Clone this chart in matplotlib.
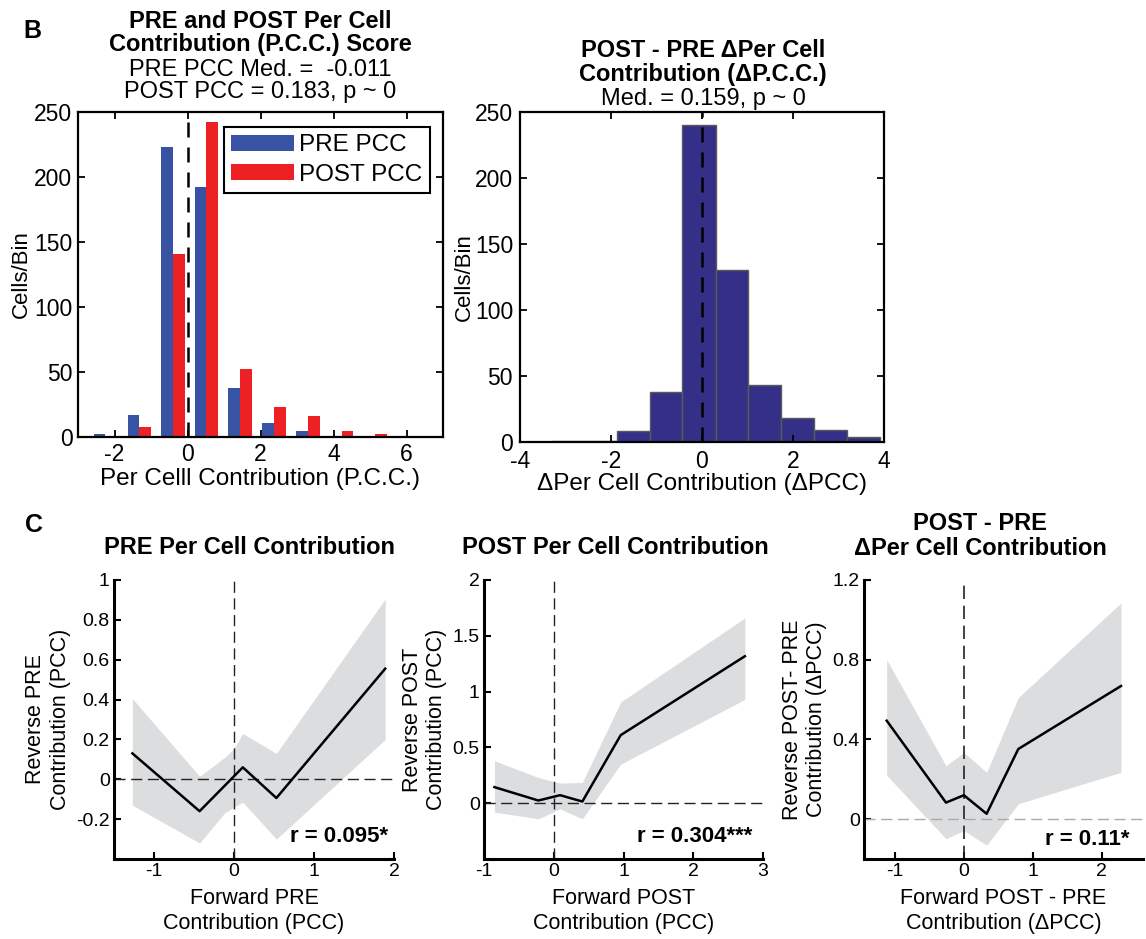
import numpy as np
import matplotlib
matplotlib.use('Agg')
import matplotlib.pyplot as plt

plt.rcParams['font.family'] = ['Liberation Sans', 'DejaVu Sans']
plt.rcParams['axes.unicode_minus'] = False

# ---------------- data ----------------
# Panel B (left): PRE / POST per-cell contribution histogram (grouped)
pcc_bin_centers = [-2.25, -1.32, -0.40, 0.52, 1.44, 2.37, 3.30, 4.22, 5.15, 6.07]
pre_counts = [2, 17, 223, 192, 38, 11, 5, 1, 0, 1]
post_counts = [0, 8, 141, 242, 52, 23, 16, 5, 2, 0]

# Panel B (right): delta PCC histogram
dpcc_edges = [-3.32, -2.60, -1.87, -1.15, -0.43, 0.30, 1.02, 1.74, 2.47, 3.19, 3.92]
dpcc_counts = [1, 1, 8, 38, 240, 130, 43, 18, 9, 4]

# Panel C: forward vs reverse contribution (mean line + shaded error band)
pre_line_x = [-1.27, -0.43, 0.11, 0.53, 1.89]
pre_line_y = [0.13, -0.16, 0.06, -0.094, 0.555]
pre_band_x = [-1.27, -0.43, -0.12, 0.0, 0.11, 0.53, 1.89]
pre_band_hi = [0.405, 0.015, 0.109, 0.154, 0.23, 0.13, 0.905]
pre_band_lo = [-0.13, -0.32, -0.17, -0.14, -0.115, -0.30, 0.20]

post_x = [-0.85, -0.22, 0.09, 0.41, 0.96, 2.74]
post_y = [0.144, 0.024, 0.072, 0.015, 0.61, 1.317]
post_hi = [0.38, 0.23, 0.18, 0.186, 0.907, 1.66]
post_lo = [-0.08, -0.14, -0.05, -0.14, 0.35, 0.93]

delta_x = [-1.12, -0.26, 0.0, 0.33, 0.79, 2.28]
delta_y = [0.494, 0.083, 0.12, 0.027, 0.352, 0.668]
delta_hi = [0.80, 0.268, 0.335, 0.235, 0.61, 1.085]
delta_lo = [0.22, -0.098, -0.057, -0.13, 0.077, 0.235]

# ---------------- layout ----------------
W, H = 1146, 939
fig = plt.figure(figsize=(W / 100, H / 100), dpi=100)


def axrect(l, t, r, b):
    return [l / W, 1 - b / H, (r - l) / W, (b - t) / H]


def fx(x):
    return x / W


def fy(y):
    return 1 - y / H


BLUE = '#3953A4'
RED = '#ED2024'
NAVY = '#343088'
BAND = '#DCDDDF'

ax1 = fig.add_axes(axrect(78, 112, 443, 437))
ax2 = fig.add_axes(axrect(520, 112, 884, 442))
ax3 = fig.add_axes(axrect(114, 580, 394, 859))
ax4 = fig.add_axes(axrect(484, 580, 763, 859))
ax5 = fig.add_axes(axrect(864, 580, 1143, 859))

# ---------- top axes style ----------
for ax in (ax1, ax2):
    for s in ax.spines.values():
        s.set_linewidth(1.6)
    ax.tick_params(direction='in', length=5, width=1.3, top=True, right=True,
                   labelsize=16.5, pad=4)
ax2.tick_params(axis='x', pad=6)
ax2.tick_params(axis='y', pad=5)

# ---------- Panel B left ----------
c = np.array(pcc_bin_centers)
bw = 0.32
ax1.bar(c - bw / 2, pre_counts, width=bw, color=BLUE, label='PRE PCC')
ax1.bar(c + bw / 2, post_counts, width=bw, color=RED, label='POST PCC')
ax1.plot([0, 0], [0, 250], color='k', lw=1.8, dashes=(6, 4))
ax1.set_xlim(-3, 7)
ax1.set_ylim(0, 250)
ax1.set_xticks([-2, 0, 2, 4, 6])
ax1.set_yticks([0, 50, 100, 150, 200, 250])
ax1.set_xlabel('Per Celll Contribution (P.C.C.)', fontsize=17.5, labelpad=2)
ax1.set_ylabel('Cells/Bin', fontsize=16, labelpad=2)
leg = ax1.legend(loc='upper right', bbox_to_anchor=(0.964, 0.954), fontsize=17.5,
                 frameon=True, fancybox=False, edgecolor='k', framealpha=1,
                 handlelength=2.6, handleheight=0.65, borderpad=0.3,
                 labelspacing=0.3, handletextpad=0.2, borderaxespad=0)
leg.get_frame().set_linewidth(1.5)

fig.text(fx(260), fy(28), 'PRE and POST Per Cell', ha='center', va='baseline',
         fontsize=17, fontweight='bold')
fig.text(fx(260), fy(51), 'Contribution (P.C.C.) Score', ha='center', va='baseline',
         fontsize=17, fontweight='bold')
fig.text(fx(260), fy(76), 'PRE PCC Med. =  -0.011', ha='center', va='baseline',
         fontsize=17)
fig.text(fx(260), fy(98), 'POST PCC = 0.183, p ~ 0', ha='center', va='baseline',
         fontsize=17)

# ---------- Panel B right ----------
e = np.array(dpcc_edges)
ax2.bar(e[:-1], dpcc_counts, width=np.diff(e), align='edge', color=NAVY,
        edgecolor='#5a5a5a', linewidth=1.0)
ax2.plot([0, 0], [0, 250], color='k', lw=1.8, dashes=(6, 4))
ax2.set_xlim(-4, 4)
ax2.set_ylim(0, 250)
ax2.set_xticks([-4, -2, 0, 2, 4])
ax2.set_yticks([0, 50, 100, 150, 200, 250])
ax2.set_xlabel('\u0394Per Cell Contribution (\u0394PCC)', fontsize=17.5, labelpad=0)
ax2.set_ylabel('Cells/Bin', fontsize=16, labelpad=0)

fig.text(fx(703), fy(57), 'POST - PRE \u0394Per Cell', ha='center', va='baseline',
         fontsize=17, fontweight='bold')
fig.text(fx(703), fy(81), 'Contribution (\u0394P.C.C.)', ha='center', va='baseline',
         fontsize=17, fontweight='bold')
fig.text(fx(703), fy(105), 'Med. = 0.159, p ~ 0', ha='center', va='baseline',
         fontsize=17)

# ---------- bottom axes ----------
def style_bottom(ax):
    ax.spines['top'].set_visible(False)
    ax.spines['right'].set_visible(False)
    ax.spines['left'].set_linewidth(2.2)
    ax.spines['bottom'].set_linewidth(2.2)
    ax.tick_params(direction='in', length=5, width=1.5, labelsize=14, pad=3)


for ax in (ax3, ax4, ax5):
    style_bottom(ax)

# Panel C1
ax3.fill_between(pre_band_x, pre_band_lo, pre_band_hi, color=BAND, lw=0)
ax3.axhline(0, color='#222222', lw=1.0, dashes=(8, 4))
ax3.axvline(0, color='#222222', lw=1.0, dashes=(8, 4))
ax3.plot(pre_line_x, pre_line_y, color='k', lw=1.8)
ax3.set_xlim(-1.5, 2)
ax3.set_ylim(-0.4, 1)
ax3.set_xticks([-1, 0, 1, 2])
ax3.set_yticks([-0.2, 0, 0.2, 0.4, 0.6, 0.8, 1])
ax3.set_yticklabels(['-0.2', '0', '0.2', '0.4', '0.6', '0.8', '1'])
ax3.set_xlabel('Forward PRE\nContribution (PCC)', fontsize=15.5, labelpad=6,
               linespacing=1.2)
ax3.set_ylabel('Reverse PRE\nContribution (PCC)', fontsize=15.5, labelpad=4,
               linespacing=1.2)
ax3.text(0.978, 0.06, 'r = 0.095*', transform=ax3.transAxes, ha='right',
         va='baseline', fontsize=16, fontweight='bold')
fig.text(fx(250), fy(554), 'PRE Per Cell Contribution', ha='center', va='baseline',
         fontsize=17, fontweight='bold')

# Panel C2
ax4.fill_between(post_x, post_lo, post_hi, color=BAND, lw=0)
ax4.axhline(0, color='#222222', lw=1.0, dashes=(8, 4))
ax4.axvline(0, color='#222222', lw=1.0, dashes=(8, 4))
ax4.plot(post_x, post_y, color='k', lw=1.8)
ax4.set_xlim(-1, 3)
ax4.set_ylim(-0.5, 2)
ax4.set_xticks([-1, 0, 1, 2, 3])
ax4.set_yticks([0, 0.5, 1, 1.5, 2])
ax4.set_yticklabels(['0', '0.5', '1', '1.5', '2'])
ax4.set_xlabel('Forward POST\nContribution (PCC)', fontsize=15.5, labelpad=6,
               linespacing=1.2)
ax4.set_ylabel('Reverse POST\nContribution (PCC)', fontsize=15.5, labelpad=4,
               linespacing=1.2)
ax4.text(0.962, 0.062, 'r = 0.304***', transform=ax4.transAxes, ha='right',
         va='baseline', fontsize=16, fontweight='bold')
fig.text(fx(615), fy(554), 'POST Per Cell Contribution', ha='center', va='baseline',
         fontsize=17, fontweight='bold')

# Panel C3
ax5.fill_between(delta_x, delta_lo, delta_hi, color=BAND, lw=0)
ax5.axhline(0, color='#aaaaaa', lw=1.0, dashes=(8, 4))
ax5.axvline(0, color='#222222', lw=1.2, dashes=(8, 4))
ax5.plot(delta_x, delta_y, color='k', lw=1.8)
ax5.set_xlim(-1.45, 2.6)
ax5.set_ylim(-0.2, 1.2)
ax5.set_xticks([-1, 0, 1, 2])
ax5.set_yticks([0, 0.4, 0.8, 1.2])
ax5.set_yticklabels(['0', '0.4', '0.8', '1.2'])
ax5.set_xlabel('Forward POST - PRE\nContribution (\u0394PCC)', fontsize=15.5,
               labelpad=6, linespacing=1.2)
ax5.set_ylabel('Reverse POST- PRE\nContribution (\u0394PCC)', fontsize=15.5,
               labelpad=4, linespacing=1.2)
ax5.text(0.953, 0.05, 'r = 0.11*', transform=ax5.transAxes, ha='right',
         va='baseline', fontsize=16, fontweight='bold')
fig.text(fx(980), fy(530), 'POST - PRE', ha='center', va='baseline',
         fontsize=17, fontweight='bold')
fig.text(fx(980), fy(555), '\u0394Per Cell Contribution', ha='center', va='baseline',
         fontsize=17, fontweight='bold')

# Panel letters
fig.text(fx(23), fy(38), 'B', ha='left', va='baseline', fontsize=18, fontweight='bold')
fig.text(fx(25), fy(532), 'C', ha='left', va='baseline', fontsize=18, fontweight='bold')

fig.savefig('out.png', dpi=100)
